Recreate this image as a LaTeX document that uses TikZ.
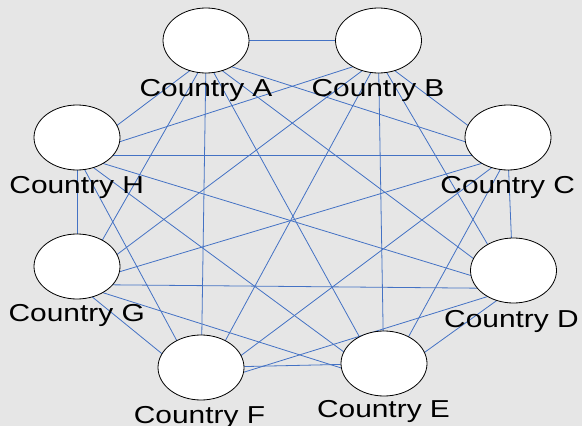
\documentclass[tikz,border=0pt]{standalone}
\usepackage{fontspec}
\setmainfont{Liberation Sans}
\usetikzlibrary{calc,shapes.geometric}
\pgfdeclarelayer{background}
\pgfsetlayers{background,main}
\definecolor{bg}{RGB}{230,230,230}
\definecolor{edgeblue}{RGB}{68,114,196}
\tikzset{
  country/.style={ellipse, draw=black, fill=white, line width=0.8pt,
    minimum width=86pt, minimum height=65pt, inner sep=0pt},
  clabel/.style={anchor=base, inner sep=0pt, font=\fontsize{24.5}{28}\selectfont},
  link/.style={draw=edgeblue, line width=0.8pt},
}
\begin{document}
\begin{tikzpicture}[x=1pt, y=-1pt]
\useasboundingbox (0,0) rectangle (582,426);
\node[country] (A) at (206,40.5) {};
\node[country] (B) at (378.5,40.5) {};
\node[country] (C) at (508,137.5) {};
\node[country] (D) at (513.5,270.5) {};
\node[country] (E) at (384,363.5) {};
\node[country] (F) at (201,367.5) {};
\node[country] (G) at (77,266.5) {};
\node[country] (H) at (77,137.5) {};
\node[clabel] (lA) at (206,96.7) {\scalebox{1.22}[1]{Country A}};
\node[clabel] (lB) at (378,96.7) {\scalebox{1.22}[1]{Country B}};
\node[clabel] (lC) at (507.7,193.3) {\scalebox{1.22}[1]{Country C}};
\node[clabel] (lD) at (511.5,327) {\scalebox{1.22}[1]{Country D}};
\node[clabel] (lE) at (383.5,417) {\scalebox{1.22}[1]{Country E}};
\node[clabel] (lF) at (199.5,423) {\scalebox{1.22}[1]{Country F}};
\node[clabel] (lG) at (76.7,321.3) {\scalebox{1.22}[1]{Country G}};
\node[clabel] (lH) at (76.7,193.3) {\scalebox{1.22}[1]{Country H}};
\begin{pgfonlayer}{background}
\fill[bg] (0,0) rectangle (582,426);
\foreach \a/\b in {A/C,A/D,A/E,A/F,A/G,A/H,
                   B/C,B/D,B/E,B/F,B/G,B/H,
                   C/D,C/E,C/F,C/G,C/H,
                   D/E,D/F,D/G,D/H,
                   E/G,E/H,
                   F/G,F/H,
                   G/H}
  \draw[link] ($(\a)+(0,18)$) -- ($(\b)+(0,18)$);
\draw[link] (A) -- (B);
\draw[link] (F) -- (E);
\end{pgfonlayer}
\end{tikzpicture}
\end{document}
